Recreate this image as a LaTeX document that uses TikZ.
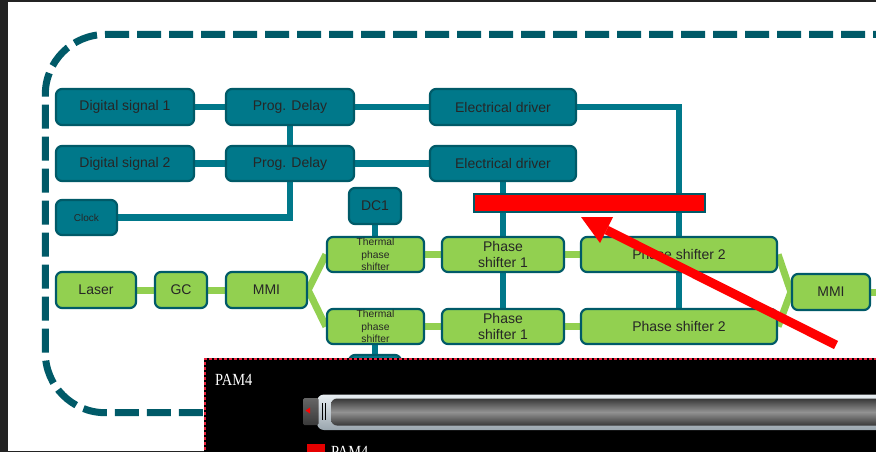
\documentclass[tikz,border=0pt]{standalone}
\usepackage{fontspec}
\setmainfont{Liberation Sans}
\newfontfamily\serifpam{Liberation Serif}
\usetikzlibrary{arrows.meta}
\pgfdeclarelayer{bg}
\pgfdeclarelayer{fg}
\pgfsetlayers{bg,main,fg}
\definecolor{tealf}{HTML}{00788A}
\definecolor{tealdk}{HTML}{005A68}
\definecolor{grn}{HTML}{92D050}
\definecolor{txt}{HTML}{262626}
\definecolor{bgdark}{HTML}{232323}
\definecolor{pnlred}{HTML}{E8203C}
\definecolor{sl1}{HTML}{E8EEF2}
\definecolor{sl2}{HTML}{9AA6AE}
\definecolor{bar1}{HTML}{383838}
\definecolor{bar2}{HTML}{929292}
\tikzset{
  tbox/.style={draw=tealdk, line width=2.2pt, fill=tealf, rounded corners=6pt,
    text=txt, font=\fontsize{14}{16.7}\selectfont, inner sep=0pt,
    minimum height=35pt, align=center},
  gbox/.style={tbox, fill=grn},
  tline/.style={draw=tealf, line width=6.5pt},
  gline/.style={draw=grn, line width=7pt},
  thermal/.style={font=\fontsize{10.3}{12.6}\selectfont},
  pamtext/.style={text=white, inner sep=0pt, font=\serifpam\fontsize{17}{17}\selectfont},
}
\begin{document}
\begin{tikzpicture}[x=1pt,y=-1pt]
\useasboundingbox (0,0) rectangle (876,452);
\clip (0,0) rectangle (876,452);

% ---- nodes ----
\node[tbox, minimum width=138pt, minimum height=36pt] (DS1) at (125,107) {Digital signal 1};
\node[tbox, minimum width=128pt, minimum height=36pt] (PD1) at (290,107) {Prog. Delay};
\node[tbox, minimum width=146pt, minimum height=36pt] (ED1) at (503,107) {Electrical driver};
\node[tbox, minimum width=138pt] (DS2) at (125,163.5) {Digital signal 2};
\node[tbox, minimum width=128pt] (PD2) at (290,163.5) {Prog. Delay};
\node[tbox, minimum width=146pt] (ED2) at (503,163.5) {Electrical driver};
\node[tbox, minimum width=61pt, font=\fontsize{10}{12}\selectfont] (Clock) at (86.5,217.5) {Clock};
\node[tbox, minimum width=52pt, minimum height=36pt] (DC1) at (375,206) {DC1};
\node[tbox, minimum width=52pt, minimum height=36pt] (DC2) at (375,373) {};

\node[gbox, minimum width=80pt, minimum height=36pt] (Laser) at (96,290) {Laser};
\node[gbox, minimum width=52pt, minimum height=36pt] (GC) at (181,290) {GC};
\node[gbox, minimum width=81pt, minimum height=36pt] (MMIL) at (266.5,290) {MMI};
\node[gbox, thermal, minimum width=97pt] (TPS1) at (375.5,254.5) {Thermal\\phase\\shifter};
\node[gbox, thermal, minimum width=97pt] (TPS2) at (375.5,326.5) {Thermal\\phase\\shifter};
\node[gbox, minimum width=122pt] (PS1a) at (503,254.5) {Phase\\shifter 1};
\node[gbox, minimum width=122pt] (PS1b) at (503,326.5) {Phase\\shifter 1};
\node[gbox, minimum width=196pt] (PS2a) at (679,254.5) {Phase shifter 2};
\node[gbox, minimum width=196pt] (PS2b) at (679,326.5) {Phase shifter 2};
\node[gbox, minimum width=78pt, minimum height=36pt] (MMIR) at (831,292) {MMI};
\coordinate (exitR) at (890,292);

% ---- background, border, connectors ----
\begin{pgfonlayer}{bg}
\fill[white] (0,0) rectangle (876,452);
\fill[bgdark] (0,0) rectangle (876,2);
\fill[bgdark] (0,0) rectangle (8,452);
\fill[bgdark] (0,450.5) rectangle (204,452);
\draw[tealdk, line width=7pt, dash pattern=on 24pt off 8pt, dash phase=29pt,
  rounded corners=60pt] (900,34.5) -- (45.3,34.5) -- (45.3,412.7) -- (240,412.7);

\draw[tline] (DS1) -- (PD1);
\draw[tline] (PD1) -- (ED1);
\draw[tline] (DS2) -- (PD2);
\draw[tline] (PD2) -- (ED2);
\draw[tline] (PD1) -- (PD2);
\draw[tline] (PD2.center) |- (Clock.center);
\draw[tline] (ED1.center) -| (PS2b.center);
\draw[tline] (ED2.center) -- (PS1b.center);
\draw[tline] (DC1.center) -- (DC1.center |- TPS1.center);
\draw[tline] (DC2.center) -- (DC2.center |- TPS2.center);

\draw[gline] (Laser) -- (GC);
\draw[gline] (GC) -- (MMIL);
\draw[gline] (MMIL.east) -- (TPS1.west);
\draw[gline] (MMIL.east) -- (TPS2.west);
\draw[gline] (TPS1) -- (PS1a);
\draw[gline] (PS1a) -- (PS2a);
\draw[gline] (TPS2) -- (PS1b);
\draw[gline] (PS1b) -- (PS2b);
\draw[gline, line join=miter] (PS2a.east) -- (MMIR.west) -- (PS2b.east);
\draw[gline] (MMIR) -- (exitR);
\end{pgfonlayer}

% ---- overlays ----
\begin{pgfonlayer}{fg}
\node[draw=tealdk, line width=2pt, fill=red, minimum width=231pt, minimum height=18pt, inner sep=0pt] (bar) at (589.5,203) {};
\coordinate (arrtip) at (581,217);
\coordinate (arrbase) at (606.5,230);
\coordinate (arrend) at (836,345);
\fill[red] (arrtip) -- (613,217) -- (600,243) -- cycle;
\draw[red, line width=9pt] (arrbase) -- (arrend);

% black panel
\fill[black] (204,358) rectangle (880,460);
\draw[pnlred, line width=2pt, dash pattern=on 3pt off 2pt] (205,460) -- (205,359) -- (880,359);
\node[pamtext, anchor=base west] (pamtop) at (215,385) {\scalebox{0.85}[1]{PAM4}};
% slider
\shade[top color=sl1, bottom color=sl2, rounded corners=7pt] (317,394.5) rectangle (900,430);
\shade[top color=bar1, bottom color=bar1, middle color=bar2, rounded corners=6pt] (331,398.5) rectangle (900,425.5);
\shade[top color=gray!80!black, bottom color=gray!45!black, rounded corners=1.5pt] (303,398) rectangle (318.5,425);
\fill[red] (305.5,410.5) -- (310,407.5) -- (310,413.5) -- cycle;
\draw[black, line width=1pt] (322.7,403) -- (322.7,420);
\draw[black, line width=1pt] (325.6,403) -- (325.6,420);
% legend
\fill[red!90!black] (307,444) rectangle (325,456);
\node[pamtext, anchor=base west] (pambot) at (331,457.5) {\scalebox{0.85}[1]{PAM4}};
\end{pgfonlayer}
\end{tikzpicture}
\end{document}
